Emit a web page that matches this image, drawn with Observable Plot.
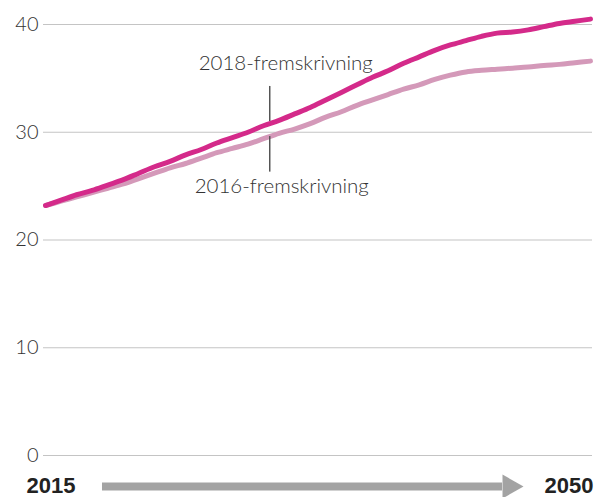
<!DOCTYPE html>
<html>
<head>
<meta charset="utf-8">
<script src="https://cdn.jsdelivr.net/npm/d3@7"></script>
<script src="https://cdn.jsdelivr.net/npm/@observablehq/plot@0.6"></script>
<style>
  html, body { margin: 0; padding: 0; background: #fff; }
  #chart svg { display: block; }
</style>
</head>
<body>
<div id="chart"></div>
<script>
// Years 2015–2050
const years = d3.range(2015, 2051);
// 2018-fremskrivning
const proj2018 = [23.2, 23.7, 24.2, 24.6, 25.1, 25.6, 26.2, 26.8, 27.3, 27.9,
  28.4, 29.0, 29.5, 30.0, 30.6, 31.1, 31.7, 32.3, 33.0, 33.7,
  34.4, 35.1, 35.7, 36.4, 37.0, 37.6, 38.1, 38.5, 38.9, 39.2,
  39.3, 39.5, 39.8, 40.1, 40.3, 40.5];
// 2016-fremskrivning
const proj2016 = [23.2, 23.6, 24.0, 24.4, 24.8, 25.2, 25.7, 26.2, 26.7, 27.1,
  27.6, 28.1, 28.5, 28.9, 29.4, 29.9, 30.3, 30.8, 31.4, 31.9,
  32.5, 33.0, 33.5, 34.0, 34.4, 34.9, 35.3, 35.6, 35.75, 35.85,
  35.95, 36.05, 36.2, 36.3, 36.45, 36.6];
const seriesNames = ["2018-fremskrivning", "2016-fremskrivning"];
const yTicks = [0, 10, 20, 30, 40];
const endLabels = ["2015", "2050"];
// annotation position (year) and arrow span (years)
const annotYear = [2029.4];
const arrowSpan = [2018.66, 2044.35];

const colors = {"2018-fremskrivning": "#d42a8a", "2016-fremskrivning": "#d499b9"};
const data = [];
years.forEach((y, i) => {
  data.push({year: y, value: proj2016[i], series: seriesNames[1]});
});
years.forEach((y, i) => {
  data.push({year: y, value: proj2018[i], series: seriesNames[0]});
});

const arrowHead = {
  draw(ctx, size) {
    ctx.moveTo(0, -12);
    ctx.lineTo(21, 0);
    ctx.lineTo(0, 12);
    ctx.closePath();
  }
};

const plot = Plot.plot({
  width: 595,
  height: 497,
  marginLeft: 45,
  marginRight: 5,
  marginTop: 24,
  marginBottom: 42,
  style: {fontFamily: "Lato, 'Open Sans', sans-serif", color: "#333", background: "#fff", overflow: "visible"},
  x: {domain: [2015, 2050], axis: null},
  y: {domain: [0, 40], axis: null},
  marks: [
    Plot.ruleY(yTicks, {stroke: "#c4c4c4", strokeWidth: 1.2, insetLeft: -2, insetRight: -2}),
    Plot.text(yTicks, {y: d => d, frameAnchor: "left", text: d => String(d), textAnchor: "end", dx: -7, fontSize: 20, fontWeight: 300, fill: "#333"}),
    Plot.line(data, {x: "year", y: "value", z: "series", stroke: d => colors[d.series], strokeWidth: 5, strokeLinecap: "round", strokeLinejoin: "round", curve: "catmull-rom"}),
    // annotation rules
    Plot.ruleX(annotYear, {x: d => d, y1: 31.0, y2: 34.25, stroke: "#555", strokeWidth: 1.5}),
    Plot.ruleX(annotYear, {x: d => d, y1: 26.3, y2: 29.6, stroke: "#555", strokeWidth: 1.5}),
    Plot.text(annotYear, {x: d => d, y: 35.75, text: () => seriesNames[0], textAnchor: "middle", lineAnchor: "bottom", dx: 16, fontSize: 20.5, fontWeight: 300, fill: "#333"}),
    Plot.text(annotYear, {x: d => d, y: 25.75, text: () => seriesNames[1], textAnchor: "middle", lineAnchor: "top", dx: 12, fontSize: 20.5, fontWeight: 300, fill: "#333"}),
    // bottom arrow
    Plot.ruleY([0], {x1: arrowSpan[0], x2: arrowSpan[1], dy: 31, stroke: "#a3a3a3", strokeWidth: 8}),
    Plot.dot([arrowSpan[1]], {x: d => d, y: 0, dy: 31, symbol: arrowHead, fill: "#a3a3a3", stroke: "none", r: 10}),
    Plot.text([2015], {x: d => d, y: 0, dy: 30, text: () => endLabels[0], textAnchor: "start", dx: -19, fontSize: 22, fontWeight: "bold", fontFamily: "'Liberation Sans', Arial, sans-serif", fill: "#222"}),
    Plot.text([2050], {x: d => d, y: 0, dy: 30, text: () => endLabels[1], textAnchor: "end", dx: 3, fontSize: 22, fontWeight: "bold", fontFamily: "'Liberation Sans', Arial, sans-serif", fill: "#222"})
  ]
});
document.getElementById("chart").appendChild(plot);
</script>
</body>
</html>
